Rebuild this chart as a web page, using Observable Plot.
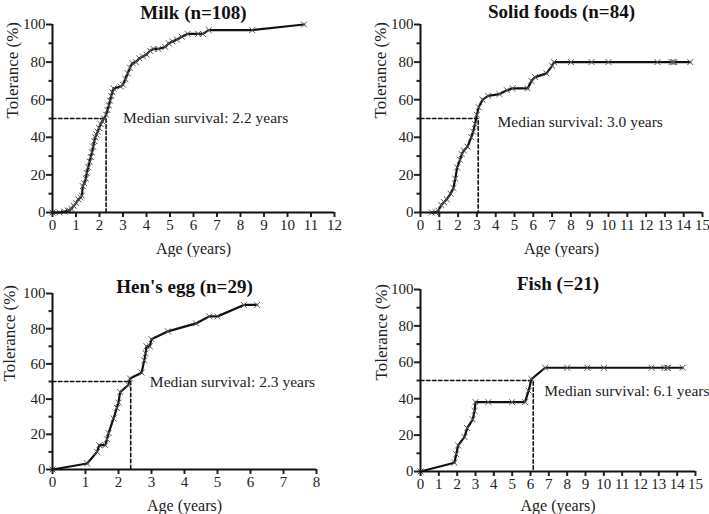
<!DOCTYPE html>
<html>
<head>
<meta charset="utf-8">
<script src="https://cdn.jsdelivr.net/npm/d3@7"></script>
<script src="https://cdn.jsdelivr.net/npm/@observablehq/plot@0.6"></script>
<style>
  html, body { margin: 0; padding: 0; background: #fff; }
  #wrap { position: relative; width: 709px; height: 514px; overflow: hidden; font-family: "Liberation Serif", "Times New Roman", serif; }
  .panel { position: absolute; }
  .panel svg { display: block; overflow: visible; }
</style>
</head>
<body>
<div id="wrap"></div>
<script>
// ---------- data ----------
const milkAge = [0, 0.3, 0.5, 0.65, 0.72, 0.8, 0.9, 1.0, 1.1, 1.2, 1.25, 1.29, 1.35, 1.42, 1.46, 1.52, 1.58, 1.63, 1.68, 1.73, 1.78, 1.82, 1.87, 1.92, 1.98, 2.05, 2.12, 2.2, 2.28, 2.34, 2.4, 2.45, 2.5, 2.55, 2.6, 2.9, 3.0, 3.1, 3.2, 3.3, 3.4, 3.55, 3.7, 3.85, 4.0, 4.15, 4.3, 4.5, 4.8, 4.95, 5.1, 5.3, 5.5, 5.75, 6.2, 6.4, 6.65, 8.5, 10.7];
const milkTol = [0, 0, 0.5, 1, 1, 2, 3.5, 5, 7, 8, 9, 14, 15.5, 18, 21, 24, 27, 29.5, 32, 35, 38, 40, 41.5, 43, 45, 47, 48.5, 50, 52, 54.5, 57, 59.5, 62, 64, 66, 67, 68, 71, 74, 77, 79.5, 80, 82, 83, 84, 86, 87, 87, 88, 90, 91, 92, 93.5, 95, 95, 95, 97, 97, 100];

const solidAge = [0.6, 0.8, 0.95, 1.1, 1.25, 1.4, 1.6, 1.75, 1.85, 1.95, 2.1, 2.2, 2.3, 2.5, 2.7, 2.8, 2.9, 3.0, 3.1, 3.3, 3.6, 4.2, 4.6, 4.9, 5.7, 5.9, 6.1, 6.7, 7.0, 7.1, 8.0, 9.1, 10.0, 12.6, 13.35, 13.45, 13.5, 14.35];
const solidTol = [0, 0, 1, 4, 5.5, 7, 10, 13, 18, 24, 28, 31, 33, 35, 40, 43, 47, 52, 56, 60, 62, 63, 65, 66, 66, 70, 72, 74, 78, 80, 80, 80, 80, 80, 80, 80, 80, 80];

const eggAge = [0, 1.05, 1.35, 1.42, 1.6, 1.65, 1.7, 1.85, 1.95, 2.0, 2.05, 2.3, 2.35, 2.7, 2.78, 2.82, 2.85, 2.95, 3.0, 3.5, 4.35, 4.75, 5.0, 5.8, 6.2];
const eggTol = [0, 3.4, 10, 13.8, 13.8, 17.2, 20.7, 29, 35, 38, 44, 48, 51.7, 55, 62, 66, 70, 70, 74, 78.5, 83, 87, 87, 93.5, 93.5];

const fishAge = [0, 1.85, 1.95, 2.05, 2.4, 2.55, 2.85, 2.95, 3.0, 3.7, 5.0, 5.7, 5.9, 6.05, 6.8, 8.0, 9.1, 10.0, 12.6, 13.3, 13.45, 13.5, 14.3];
const fishTol = [0, 4.8, 9.5, 14.3, 19, 23.8, 28.6, 33.3, 38.1, 38.1, 38.1, 38.1, 44.4, 50.8, 57, 57, 57, 57, 57, 57, 57, 57, 57];

const titles = ["Milk (n=108)", "Solid foods (n=84)", "Hen's egg (n=29)", "Fish (=21)"];
const xMaxes = [12, 15, 8, 15];
const medians = [2.28, 3.07, 2.37, 6.15];
const medianTexts = ["Median survival: 2.2 years", "Median survival: 3.0 years", "Median survival: 2.3 years", "Median survival: 6.1 years"];
const medianTextAt = [[3.0, 50], [4.1, 48], [2.95, 49.5], [6.75, 44]];
const yTicks = [0, 20, 40, 60, 80, 100];
const yMinor = [10, 30, 50, 70, 90];

// ---------- layout ----------
const layouts = [
  {left: 0, top: 0, width: 354, ml: 52, mr: 20, mt: 24, mb: 45, titleDy: -12, yLabelX: 12, xLabelDy: 36},
  {left: 354, top: 0, width: 355, ml: 66, mr: 7, mt: 24, mb: 45, titleDy: -13, yLabelX: 26, xLabelDy: 36},
  {left: 0, top: 257, width: 354, ml: 52, mr: 38, mt: 36, mb: 45, titleDy: -7, yLabelX: 9, xLabelDy: 36},
  {left: 354, top: 257, width: 355, ml: 66, mr: 14, mt: 32, mb: 43, titleDy: -6, yLabelX: 27, xLabelDy: 34}
];

const series = [
  [milkAge, milkTol], [solidAge, solidTol], [eggAge, eggTol], [fishAge, fishTol]
];

const font = "Liberation Serif, Times New Roman, serif";
const wrap = document.getElementById("wrap");

series.forEach(([ages, tols], i) => {
  const L = layouts[i];
  const data = ages.map((a, k) => ({age: a, tol: tols[k]}));
  const m = medians[i];
  const medLine = [{age: 0, tol: 50}, {age: m, tol: 50}, {age: m, tol: 0}];
  const xMax = xMaxes[i];
  const chart = Plot.plot({
    width: L.width,
    height: 257,
    marginLeft: L.ml, marginRight: L.mr, marginTop: L.mt, marginBottom: L.mb,
    style: {fontFamily: font, fontSize: "15px", color: "#222", background: "white"},
    x: {domain: [0, xMax]},
    y: {domain: [0, 100]},
    marks: [
      Plot.line(medLine, {x: "age", y: "tol", stroke: "#111", strokeWidth: 1.6, strokeDasharray: "3.5,2.5"}),
      Plot.line(data, {x: "age", y: "tol", stroke: "#111", strokeWidth: 2.2}),
      Plot.dot(data, {x: "age", y: "tol", symbol: "times", r: 2.8, stroke: "#555", strokeWidth: 1}),
      Plot.axisY({ticks: yTicks, tickSize: 6, tickPadding: 1, strokeWidth: 2, fontSize: 15, label: null, tickFormat: d3.format("d")}),
      Plot.axisY({ticks: yMinor, tickSize: 3.5, strokeWidth: 2, text: null, label: null}),
      Plot.axisX({ticks: d3.range(0, xMax + 1), tickSize: 5, tickPadding: 2, strokeWidth: 2, fontSize: 15, label: null, tickFormat: d3.format("d")}),
      Plot.ruleX([0], {stroke: "#111", strokeWidth: 2}),
      Plot.ruleY([0], {stroke: "#111", strokeWidth: 2}),
      Plot.text([medianTexts[i]], {x: () => medianTextAt[i][0], y: () => medianTextAt[i][1], textAnchor: "start", fontSize: 15.5, fill: "#222"}),
      Plot.text([titles[i]], {frameAnchor: "top", dy: L.titleDy, lineAnchor: "middle", fontSize: 19, fontWeight: "bold", fill: "#111"}),
      Plot.text(["Age (years)"], {frameAnchor: "bottom", dy: L.xLabelDy, lineAnchor: "middle", fontSize: 16, fill: "#222"}),
      Plot.text(["Tolerance (%)"], {frameAnchor: "left", dx: L.yLabelX - L.ml, rotate: -90, lineAnchor: "middle", fontSize: 17, fill: "#222"})
    ]
  });
  const div = document.createElement("div");
  div.className = "panel";
  div.style.left = L.left + "px";
  div.style.top = L.top + "px";
  div.appendChild(chart);
  wrap.appendChild(div);
});
</script>
</body>
</html>
